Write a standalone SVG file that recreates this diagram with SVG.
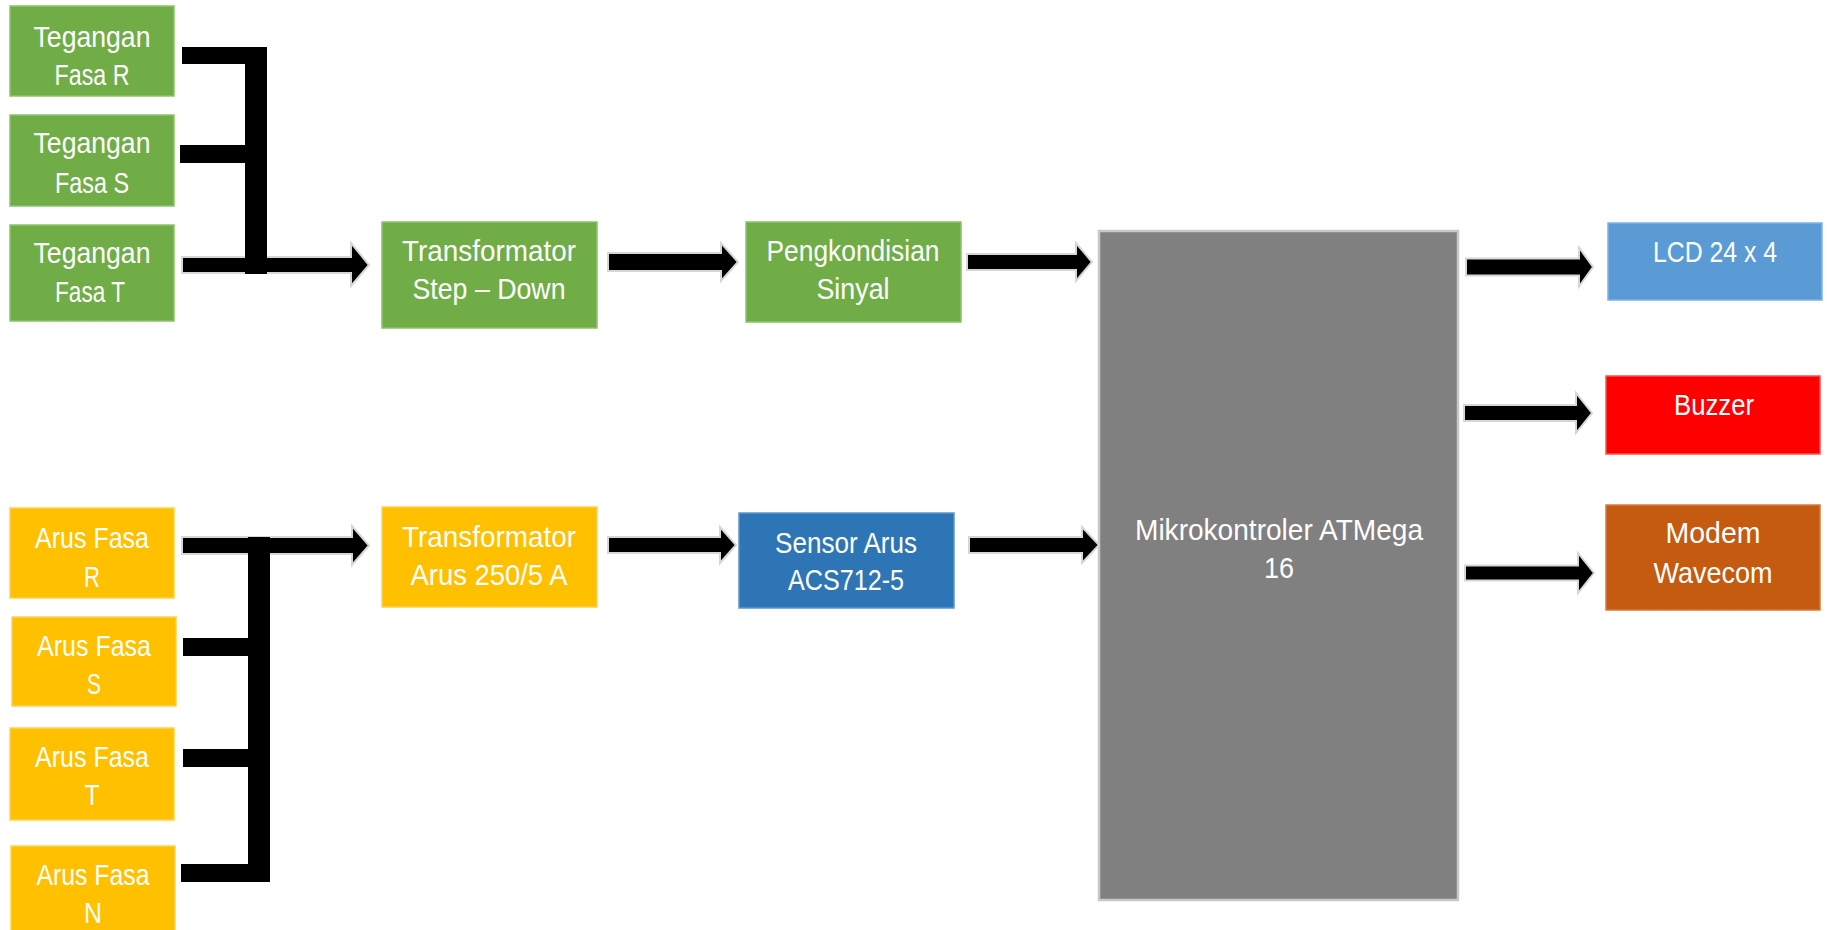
<svg xmlns="http://www.w3.org/2000/svg" width="1827" height="930" viewBox="0 0 1827 930">
<style>
text{font-family:"Liberation Sans",Arial,sans-serif;font-size:30px;fill:#ffffff;text-anchor:middle}
.g{fill:#70AD47;stroke:#8cc36a;stroke-width:1.5}
.y{fill:#FFC000;stroke:#ffd24d;stroke-width:1.5}
.b{fill:#2E75B6;stroke:#5b97cf;stroke-width:1.5}
.lb{fill:#5B9BD5;stroke:#7fb2e2;stroke-width:1.5}
.r{fill:#FF0000;stroke:#ff5050;stroke-width:1.5}
.o{fill:#C55A11;stroke:#d67a3c;stroke-width:1.5}
.m{fill:#808080;stroke:#c8c8c8;stroke-width:2.5}
.arr{fill:#000;stroke:#d6d6d6;stroke-width:2;stroke-linejoin:miter}
.bar{fill:#000}
</style>
<rect width="1827" height="930" fill="#ffffff"/>

<g id="tegangan-r"><rect class="g" x="10" y="6" width="164" height="90"/><text x="92" y="47" textLength="117" lengthAdjust="spacingAndGlyphs">Tegangan</text><text x="92" y="85" textLength="75" lengthAdjust="spacingAndGlyphs">Fasa R</text></g>
<g id="tegangan-s"><rect class="g" x="10" y="115" width="164" height="91"/><text x="92" y="153" textLength="117" lengthAdjust="spacingAndGlyphs">Tegangan</text><text x="92" y="193" textLength="74" lengthAdjust="spacingAndGlyphs">Fasa S</text></g>
<g id="tegangan-t"><rect class="g" x="10" y="225" width="164" height="96"/><text x="92" y="263" textLength="117" lengthAdjust="spacingAndGlyphs">Tegangan</text><text x="90" y="302" textLength="70" lengthAdjust="spacingAndGlyphs">Fasa T</text></g>

<g id="trafo-stepdown"><rect class="g" x="382" y="222" width="215" height="106"/><text x="489" y="261" textLength="174" lengthAdjust="spacingAndGlyphs">Transformator</text><text x="489" y="299" textLength="153" lengthAdjust="spacingAndGlyphs">Step – Down</text></g>
<g id="pengkondisian"><rect class="g" x="746" y="222" width="215" height="100"/><text x="853" y="261" textLength="173" lengthAdjust="spacingAndGlyphs">Pengkondisian</text><text x="853" y="299" textLength="73" lengthAdjust="spacingAndGlyphs">Sinyal</text></g>

<g id="arus-r"><rect class="y" x="10" y="508" width="164" height="90"/><text x="92" y="548" textLength="114" lengthAdjust="spacingAndGlyphs">Arus Fasa</text><text x="92" y="587" textLength="16" lengthAdjust="spacingAndGlyphs">R</text></g>
<g id="arus-s"><rect class="y" x="12" y="617" width="164" height="89"/><text x="94" y="656" textLength="114" lengthAdjust="spacingAndGlyphs">Arus Fasa</text><text x="94" y="694" textLength="14" lengthAdjust="spacingAndGlyphs">S</text></g>
<g id="arus-t"><rect class="y" x="10" y="728" width="164" height="92"/><text x="92" y="767" textLength="114" lengthAdjust="spacingAndGlyphs">Arus Fasa</text><text x="92" y="805" textLength="15" lengthAdjust="spacingAndGlyphs">T</text></g>
<g id="arus-n"><rect class="y" x="11" y="846" width="164" height="90"/><text x="93" y="885" textLength="113" lengthAdjust="spacingAndGlyphs">Arus Fasa</text><text x="93" y="923" textLength="18" lengthAdjust="spacingAndGlyphs">N</text></g>

<g id="trafo-arus"><rect class="y" x="382" y="507" width="215" height="100"/><text x="489" y="547" textLength="174" lengthAdjust="spacingAndGlyphs">Transformator</text><text x="489" y="585" textLength="157" lengthAdjust="spacingAndGlyphs">Arus 250/5 A</text></g>
<g id="sensor-arus"><rect class="b" x="739" y="513" width="215" height="95"/><text x="846" y="553" textLength="142" lengthAdjust="spacingAndGlyphs">Sensor Arus</text><text x="846" y="590" textLength="116" lengthAdjust="spacingAndGlyphs">ACS712-5</text></g>

<g id="mikrokontroler"><rect class="m" x="1099" y="231" width="359" height="669"/><text x="1279" y="540" textLength="288" lengthAdjust="spacingAndGlyphs">Mikrokontroler ATMega</text><text x="1279" y="578" textLength="30" lengthAdjust="spacingAndGlyphs">16</text></g>

<g id="lcd"><rect class="lb" x="1608" y="223" width="214" height="77"/><text x="1715" y="262" textLength="124" lengthAdjust="spacingAndGlyphs">LCD 24 x 4</text></g>
<g id="buzzer"><rect class="r" x="1606" y="376" width="214" height="78"/><text x="1714" y="415" textLength="80" lengthAdjust="spacingAndGlyphs">Buzzer</text></g>
<g id="modem"><rect class="o" x="1606" y="505" width="214" height="105"/><text x="1713" y="543" textLength="95" lengthAdjust="spacingAndGlyphs">Modem</text><text x="1713" y="583" textLength="119" lengthAdjust="spacingAndGlyphs">Wavecom</text></g>

<g id="connectors">
<polygon class="arr" points="182,257 351,257 351,243 369,265 351,286 351,273 182,273"/>
<polygon class="arr" points="608,253 721,253 721,243 738,262 721,281 721,271 608,271"/>
<polygon class="arr" points="967,254 1076,254 1076,243 1092,262 1076,281 1076,270 967,270"/>
<polygon class="arr" points="182,537 352,537 352,526 369,545.5 352,565 352,554 182,554"/>
<polygon class="arr" points="608,537 720,537 720,527 736,545 720,563 720,553 608,553"/>
<polygon class="arr" points="969,537 1082,537 1082,527 1099,545 1082,563 1082,553 969,553"/>
<polygon class="arr" points="1466,258.5 1579,258.5 1579,247.5 1593,267 1579,286.5 1579,275.5 1466,275.5"/>
<polygon class="arr" points="1464,405 1576,405 1576,393 1592,413 1576,433 1576,421 1464,421"/>
<polygon class="arr" points="1465,565.5 1578,565.5 1578,553 1594,573 1578,593 1578,580.5 1465,580.5"/>
<rect class="bar" x="182" y="47" width="85" height="17"/>
<rect class="bar" x="245" y="47" width="22" height="227"/>
<rect class="bar" x="180" y="145" width="65" height="18"/>
<rect class="bar" x="248" y="537" width="22" height="345"/>
<rect class="bar" x="183" y="638" width="65" height="18"/>
<rect class="bar" x="183" y="749" width="65" height="18"/>
<rect class="bar" x="181" y="864" width="89" height="18"/>
</g>
</svg>
